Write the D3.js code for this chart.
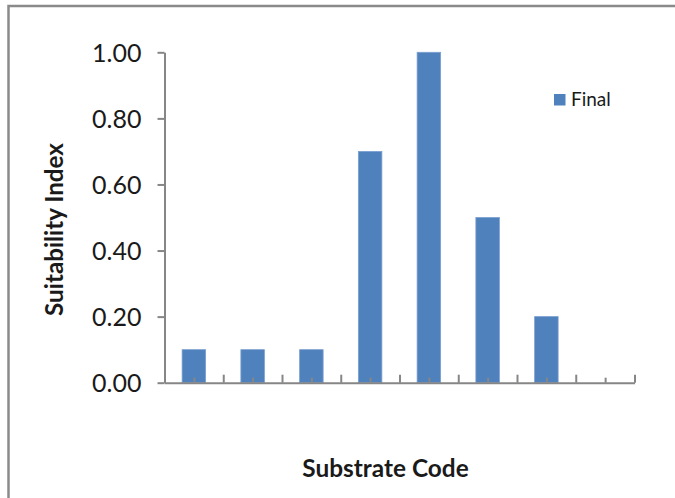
<!DOCTYPE html>
<html><head><meta charset="utf-8">
<script src="https://cdn.jsdelivr.net/npm/d3@7"></script>
<style>html,body{margin:0;padding:0;background:#fff;}svg{display:block;}</style>
</head><body>
<svg id="chart" width="675" height="498"></svg>
<script>
const categories = ["1","2","3","4","5","6","7","8"];
const finalValues = [0.10, 0.10, 0.10, 0.70, 1.00, 0.50, 0.20, null];
const yTicks = [0.00, 0.20, 0.40, 0.60, 0.80, 1.00];
const seriesName = "Final";
const xTitle = "Substrate Code";
const yTitle = "Suitability Index";

(function () {
const font = "Lato, 'Open Sans', sans-serif";
const axisColor = "#868686";
const textColor = "#1a1a1a";
const barColor = "#4F81BD";

const svg = d3.select("#chart");
svg.append("rect").attr("x", 8.5).attr("y", 6).attr("width", 700).attr("height", 520)
  .attr("fill", "#fff").attr("stroke", "#8a8a8a").attr("stroke-width", 2.5);

const pLeft = 164.5, pRight = 634.5, pTop = 52.3, pBottom = 382.7;

const x = d3.scaleBand().domain(categories).range([pLeft, pRight]).paddingInner(0.6).paddingOuter(0.3);
const xl = d3.scaleLinear().domain([0, categories.length]).range([pLeft, pRight]);
const y = d3.scaleLinear().domain([0, 1]).range([pBottom, pTop]);

// bars
svg.append("g").selectAll("rect").data(categories.map((c, i) => ({c, v: finalValues[i]})).filter(d => d.v != null))
  .join("rect")
  .attr("x", d => x(d.c)).attr("width", x.bandwidth())
  .attr("y", d => y(d.v)).attr("height", d => y(0) - y(d.v))
  .attr("fill", barColor).attr("stroke", "#7a9fd0").attr("stroke-width", 0.8);

// y axis
const yAxis = svg.append("g").attr("transform", `translate(${pLeft},0)`)
  .call(d3.axisLeft(y).tickValues(yTicks).tickFormat(d3.format(".2f")).tickSize(7).tickSizeOuter(0).tickPadding(16));
yAxis.selectAll("path,line").attr("stroke", axisColor).attr("stroke-width", 2);
yAxis.selectAll("text").attr("font-family", font).attr("font-size", 25).attr("fill", textColor).attr("dy", "0.36em");

// x axis minor ticks (category centres)
const minorTicks = d3.range(categories.length).map(i => i + 0.5);
const majorTicks = d3.range(categories.length + 1);
const xMinor = svg.append("g").attr("transform", `translate(0,${pBottom})`)
  .call(d3.axisBottom(xl).tickValues(minorTicks).tickSize(-5).tickFormat(""));
xMinor.select(".domain").remove();
xMinor.selectAll("line").attr("stroke", axisColor).attr("stroke-width", 2);
const xAxis = svg.append("g").attr("transform", `translate(0,${pBottom})`)
  .call(d3.axisBottom(xl).tickValues(majorTicks).tickSize(-8).tickSizeOuter(0).tickFormat(""));
xAxis.selectAll("path,line").attr("stroke", axisColor).attr("stroke-width", 2);

// titles
svg.append("text").attr("x", 385.5).attr("y", 477).attr("text-anchor", "middle")
  .attr("font-family", font).attr("font-weight", "bold").attr("font-size", 24.4).attr("fill", textColor).text(xTitle);
svg.append("text").attr("transform", "translate(63,229.5) rotate(-90)").attr("text-anchor", "middle")
  .attr("font-family", font).attr("font-weight", "bold").attr("font-size", 24.2).attr("fill", textColor).text(yTitle);

// legend
const lg = svg.append("g").attr("transform", "translate(554,94)");
lg.append("rect").attr("width", 11.5).attr("height", 11.5).attr("fill", barColor);
lg.append("text").attr("x", 17).attr("y", 12).attr("font-family", font).attr("font-size", 19).attr("fill", textColor).text(seriesName);
})();
</script>
</body></html>
